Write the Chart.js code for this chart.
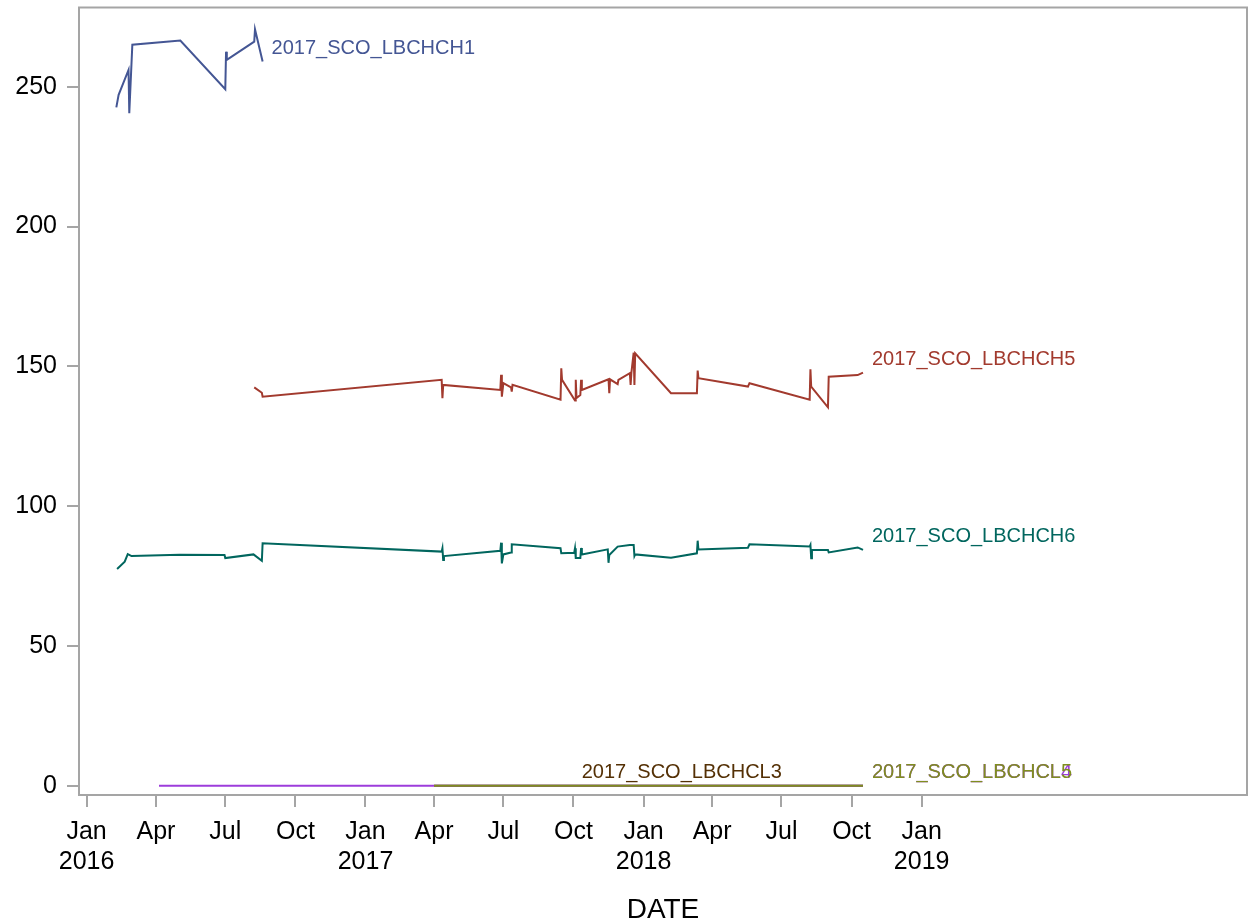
<!DOCTYPE html>
<html>
<head>
<meta charset="utf-8">
<script src="https://cdn.jsdelivr.net/npm/chart.js@4.4.1/dist/chart.umd.min.js"></script>
<style>
  html, body { margin: 0; padding: 0; background: #fff; }
  #wrap { width: 1252px; height: 924px; }
</style>
</head>
<body>
<div id="wrap"><canvas id="myLineChart" width="1252" height="924"></canvas></div>
<script>
// series
var ch1Dates = ['2016-02-09', '2016-02-12', '2016-02-25', '2016-02-26', '2016-03-01', '2016-05-03',
  '2016-07-01', '2016-07-02', '2016-07-03', '2016-08-08', '2016-08-09', '2016-08-19'];
var ch1Values = [242.6, 247.1, 256, 240.5, 265, 266.5, 249.1, 262.5, 259.6, 266.1, 270.5, 259];

var ch5Dates = ['2016-08-08', '2016-08-18', '2016-08-19', '2017-04-11', '2017-04-12', '2017-04-13',
  '2017-06-27', '2017-06-28', '2017-06-29', '2017-07-01', '2017-07-11', '2017-07-12', '2017-07-13',
  '2017-09-14', '2017-09-15', '2017-09-16', '2017-10-03', '2017-10-04', '2017-10-05', '2017-10-10',
  '2017-10-11', '2017-10-12', '2017-11-16', '2017-11-17', '2017-11-18', '2017-11-28', '2017-11-29',
  '2017-12-14', '2017-12-15', '2017-12-16', '2017-12-19', '2017-12-20', '2017-12-21', '2018-02-06',
  '2018-03-12', '2018-03-13', '2018-03-14', '2018-05-18', '2018-05-20', '2018-08-07', '2018-08-08',
  '2018-08-09', '2018-08-31', '2018-09-01', '2018-10-09', '2018-10-16'];
var ch5Values = [142.5, 140.6, 139.2, 145.2, 138.6, 143.4,
  141.6, 147, 139.2, 144, 142.5, 141, 143.4,
  138.1, 149.3, 145.2, 137.8, 145.2, 138.7, 139.8,
  145.2, 141.6, 145.4, 140.4, 145.4, 143.7, 145.2,
  147.6, 143.4, 147.7, 154.9, 143.4, 154.7, 140.4,
  140.4, 148.5, 145.8, 142.8, 144, 138.1, 149,
  142.8, 135.4, 146.3, 146.9, 147.8];

var ch6Dates = ['2016-02-10', '2016-02-20', '2016-02-24', '2016-02-29', '2016-05-02', '2016-06-30',
  '2016-07-01', '2016-08-07', '2016-08-18', '2016-08-19', '2017-04-11', '2017-04-12', '2017-04-13',
  '2017-04-14', '2017-06-27', '2017-06-28', '2017-06-29', '2017-07-01', '2017-07-11', '2017-07-12',
  '2017-09-14', '2017-09-15', '2017-10-02', '2017-10-03', '2017-10-04', '2017-10-10', '2017-10-11',
  '2017-10-12', '2017-11-15', '2017-11-16', '2017-11-17', '2017-11-28', '2017-12-14', '2017-12-19',
  '2017-12-20', '2017-12-21', '2018-02-06', '2018-03-12', '2018-03-13', '2018-03-14', '2018-05-18',
  '2018-05-20', '2018-08-07', '2018-08-08', '2018-08-09', '2018-08-10', '2018-08-31', '2018-09-01',
  '2018-10-09', '2018-10-16'];
var ch6Values = [77.6, 80.2, 82.9, 82.2, 82.7, 82.6,
  81.5, 82.8, 80.5, 86.8, 83.8, 85, 80.8,
  82.2, 84.1, 87, 79.6, 82.8, 83.5, 86.4,
  85, 83.2, 83.4, 85, 81.5, 81.5, 85.1,
  82.8, 84.6, 79.8, 82.6, 85.6, 86.2, 86.2,
  82.2, 82.8, 81.6, 83.2, 87.7, 84.6, 85.2,
  86.4, 85.6, 86.2, 81.4, 84.4, 84.4, 83.5,
  85.3, 84.4];

var cl3Dates = ['2017-04-01', '2017-07-01', '2017-10-01', '2018-01-01', '2018-04-01', '2018-07-01', '2018-10-16'];
var cl3Values = [0.15, 0.15, 0.15, 0.15, 0.15, 0.15, 0.15];

var cl4Dates = ['2016-04-05', '2016-07-01', '2016-10-01', '2017-01-01', '2017-04-01', '2017-10-01', '2018-04-01', '2018-10-16'];
var cl4Values = [0.1, 0.1, 0.1, 0.1, 0.1, 0.1, 0.1, 0.1];

var cl5Dates = ['2017-04-01', '2017-07-01', '2017-10-01', '2018-01-01', '2018-04-01', '2018-07-01', '2018-10-16'];
var cl5Values = [0.15, 0.15, 0.15, 0.15, 0.15, 0.15, 0.15];

var seriesNames = ['2017_SCO_LBCHCH1', '2017_SCO_LBCHCH5', '2017_SCO_LBCHCH6',
  '2017_SCO_LBCHCL3', '2017_SCO_LBCHCL4', '2017_SCO_LBCHCL5'];
var seriesColors = ['#445694', '#A23A2E', '#01665E', '#543005', '#9D3CDB', '#7F8E1F'];
// where a curve label sits (null = end of its curve)
var labelAnchors = [null, null, null, '2017-09-30', null, null];

var xTickDates = ['2016-01-01', '2016-04-01', '2016-07-01', '2016-10-01', '2017-01-01', '2017-04-01',
  '2017-07-01', '2017-10-01', '2018-01-01', '2018-04-01', '2018-07-01', '2018-10-01', '2019-01-01'];
var xTickLabels = [['Jan', '2016'], 'Apr', 'Jul', 'Oct', ['Jan', '2017'], 'Apr', 'Jul', 'Oct',
  ['Jan', '2018'], 'Apr', 'Jul', 'Oct', ['Jan', '2019']];
var yTicks = [0, 50, 100, 150, 200, 250];

var allDates = [ch1Dates, ch5Dates, ch6Dates, cl3Dates, cl4Dates, cl5Dates];
var allValues = [ch1Values, ch5Values, ch6Values, cl3Values, cl4Values, cl5Values];
// olive on top of purple on top of brown
var drawOrder = [1, 1, 1, 4, 3, 2];

function toPoints(dates, values) {
  return dates.map(function (d, i) { return { x: Date.parse(d), y: values[i] }; });
}

var datasets = seriesNames.map(function (name, i) {
  return {
    label: name,
    data: toPoints(allDates[i], allValues[i]),
    borderColor: seriesColors[i],
    borderWidth: 2,
    pointRadius: 0,
    tension: 0,
    fill: false,
    order: drawOrder[i]
  };
});

var gray = '#a5a5a5';

var framePlugin = {
  id: 'frame',
  afterDraw: function (chart) {
    var a = chart.chartArea, ctx = chart.ctx;
    ctx.save();
    ctx.strokeStyle = gray;
    ctx.lineWidth = 2;
    ctx.strokeRect(a.left, a.top, a.right - a.left, a.bottom - a.top);
    ctx.restore();
  }
};

var curveLabels = {
  id: 'curveLabels',
  afterDatasetsDraw: function (chart) {
    var ctx = chart.ctx, xs = chart.scales.x, ys = chart.scales.y;
    ctx.save();
    ctx.font = '20px "Liberation Sans", Arial, sans-serif';
    ctx.textBaseline = 'middle';
    ctx.textAlign = 'left';
    // purple first so the olive one lands on top
    [0, 1, 2, 3, 4, 5].forEach(function (i) {
      var d = allDates[i], v = allValues[i];
      var px = labelAnchors[i] ? Date.parse(labelAnchors[i]) : Date.parse(d[d.length - 1]);
      var x = xs.getPixelForValue(px) + 9;
      var y = ys.getPixelForValue(v[v.length - 1]) - 13;
      ctx.fillStyle = seriesColors[i];
      ctx.fillText(seriesNames[i], x, y);
    });
    ctx.restore();
  }
};

var lineCtx = document.getElementById('myLineChart').getContext('2d');
var myLineChart = new Chart(lineCtx, {
  type: 'line',
  data: { datasets: datasets },
  plugins: [framePlugin, curveLabels],
  options: {
    responsive: false,
    animation: false,
    layout: { padding: { top: 7.5, right: 5, left: 0, bottom: 0 } },
    plugins: { legend: { display: false }, tooltip: { enabled: false } },
    scales: {
      x: {
        type: 'linear',
        min: Date.parse('2015-12-22'),
        max: Date.parse('2020-03-03'),
        afterBuildTicks: function (scale) {
          scale.ticks = xTickDates.map(function (d) { return { value: Date.parse(d) }; });
        },
        afterFit: function (scale) {
          scale.height = 129;
          scale.paddingLeft = 0;
          scale.paddingRight = 0;
        },
        border: { display: false },
        grid: { drawOnChartArea: false, drawTicks: true, tickLength: 12, color: gray, lineWidth: 2 },
        ticks: {
          autoSkip: false,
          maxRotation: 0,
          padding: 10,
          color: '#000',
          font: { family: '"Liberation Sans", Arial, sans-serif', size: 25, lineHeight: 1.2 },
          callback: function (value, index) { return xTickLabels[index]; }
        },
        title: {
          display: true,
          text: 'DATE',
          color: '#000',
          padding: 0,
          font: { family: '"Liberation Sans", Arial, sans-serif', size: 28, lineHeight: 1 }
        }
      },
      y: {
        min: -3.2,
        max: 278.3,
        afterBuildTicks: function (scale) {
          scale.ticks = yTicks.map(function (v) { return { value: v }; });
        },
        afterFit: function (scale) {
          scale.width = 79;
          scale.paddingTop = 0;
          scale.paddingBottom = 0;
        },
        border: { display: false },
        grid: { drawOnChartArea: false, drawTicks: true, tickLength: 12, color: gray, lineWidth: 2 },
        ticks: {
          padding: 10,
          color: '#000',
          font: { family: '"Liberation Sans", Arial, sans-serif', size: 25 }
        }
      }
    }
  }
});
</script>
</body>
</html>
